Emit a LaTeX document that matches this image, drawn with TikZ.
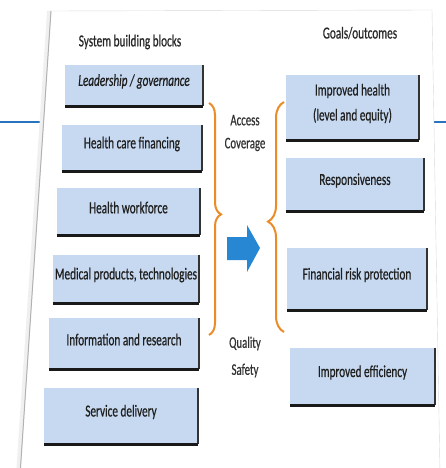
\documentclass[tikz,border=0pt]{standalone}
\usepackage{fontspec}
\setmainfont[FakeBold=0.7]{Carlito}
\usepackage{graphicx}
\usetikzlibrary{calc,decorations.pathreplacing}
\definecolor{blockfill}{RGB}{198,217,240}
\definecolor{braceorange}{RGB}{236,140,40}
\definecolor{arrowblue}{RGB}{40,135,210}
\definecolor{ruleblue}{RGB}{40,115,190}
\newcommand{\tall}[1]{\scalebox{1}[1.5]{#1}}
\tikzset{
  block/.style={fill=blockfill, inner sep=0pt},
  blocktext/.style={font=\fontsize{11.2}{25}\selectfont, text=black!88, align=center, inner sep=0pt},
  heading/.style={font=\fontsize{11.2}{13}\selectfont, text=black!85, inner sep=0pt},
  midtext/.style={font=\fontsize{10.8}{23}\selectfont, text=black!80, align=center, inner sep=0pt},
  shadowB/.style={black!90, line width=3pt},
  shadowR/.style={black!80, line width=1.8pt},
  curly/.style={decorate, decoration={brace, amplitude=#1, aspect=0.48}, draw=braceorange, line width=2pt}
}
% block with dark shadow at bottom and right
\newcommand{\Block}[6]{%
  \node[block, minimum width={#4pt-#2pt}, minimum height={#5pt-#3pt}] (#1) at ({(#2+#4)/2},{(#3+#5)/2}) {};
  \draw[shadowR] (#1.north east) -- (#1.south east);
  \draw[shadowB] (#1.south west) -- (#1.south east);
  \node[blocktext] (#1txt) at ($(#1.center)+(0,-4)$) {#6};
}
\begin{document}
\begin{tikzpicture}[x=1pt,y=-1pt]
  \useasboundingbox (0,0) rectangle (446,468);
  \clip (0,0) rectangle (446,468);
  % blue rule behind the slide
  \draw[ruleblue, line width=1.3pt] (0,122) -- (446,122);
  % slide panel
  \fill[black!6] (47,11) -- (16,475) -- (22,475) -- (51,11) -- cycle;
  \filldraw[fill=white, draw=black!15] (51,11) -- (432,10) -- (440,475) -- (20,475) -- cycle;
  \draw[black!30, line width=1pt] (51,11) -- (20,475);
  % headings
  \node[heading] (hleft) at (130,42) {\tall{System building blocks}};
  \node[heading] (hright) at (360,33) {\tall{Goals/outcomes}};
  % building blocks
  \Block{lead}{65}{65}{203}{106}{\tall{\itshape Leadership / governance}}
  \Block{fin}{62}{125}{202}{171}{\tall{Health care financing}}
  \Block{work}{57}{188}{200}{235}{\tall{Health workforce}}
  \Block{med}{53}{255}{199}{303}{\tall{Medical products, technologies}}
  \Block{info}{49}{318}{199}{369}{\tall{Information and research}}
  \Block{serv}{44}{388}{198}{444}{\tall{Service delivery}}
  % outcomes
  \Block{health}{286}{75}{419}{140}{\tall{Improved health}\\\tall{(level and equity)}}
  \Block{resp}{286}{158}{424}{211}{\tall{Responsiveness}}
  \Block{risk}{287}{248}{427}{310}{\tall{Financial risk protection}}
  \Block{eff}{290}{348}{435}{405}{\tall{Improved efficiency}}
  % braces
  \coordinate (lbT) at (209,103);
  \coordinate (lbB) at (209,335);
  \coordinate (rbT) at (284,102);
  \coordinate (rbB) at (284,332);
  \draw[curly=12] (lbT) -- (lbB);
  \draw[curly=16] (rbB) -- (rbT);
  % middle texts
  \node[midtext] (acc) at (245,133) {\tall{Access}\\\tall{Coverage}};
  \node[midtext, font=\fontsize{10.8}{27}\selectfont] (qual) at (245,357) {\tall{Quality}\\\tall{Safety}};
  % block arrow
  \fill[arrowblue] (227,237) -- (247,237) -- (247,225) -- (260,248) -- (247,272) -- (247,260) -- (227,260) -- cycle;
\end{tikzpicture}
\end{document}
